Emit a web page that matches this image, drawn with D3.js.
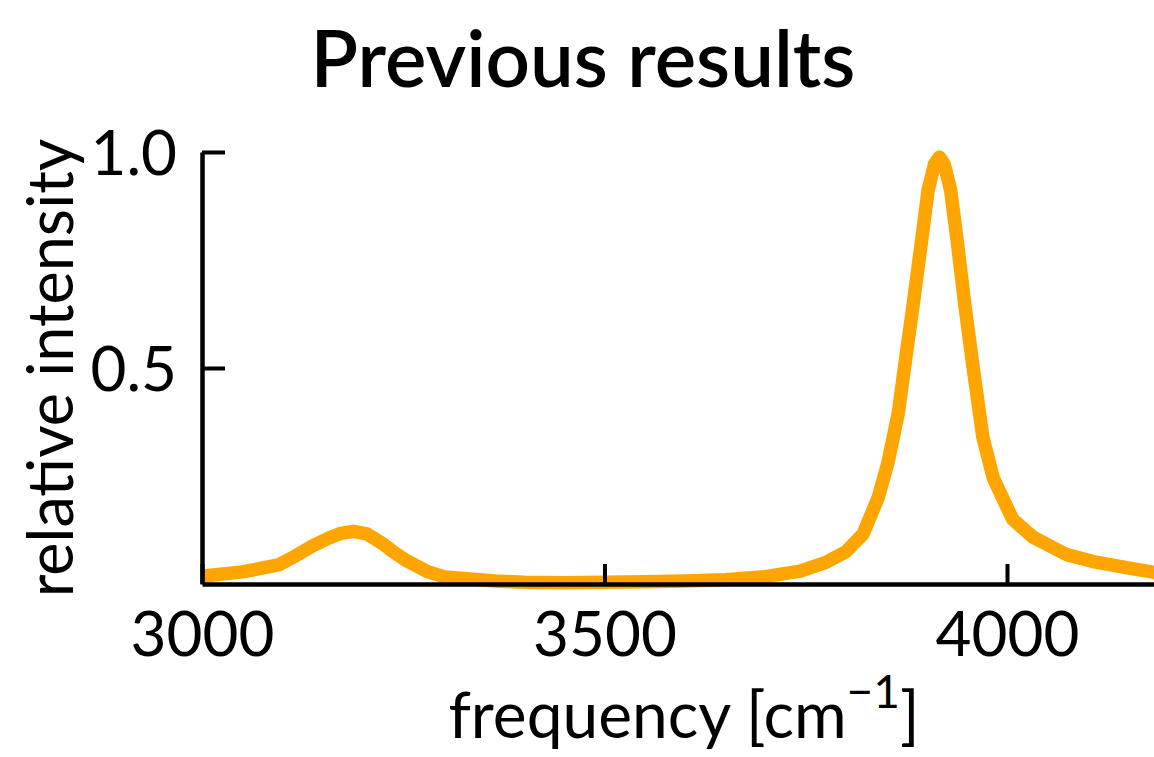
<!DOCTYPE html>
<html>
<head>
<meta charset="utf-8">
<script src="https://cdn.jsdelivr.net/npm/d3@7"></script>
<style>
  body { margin: 0; background: #fff; }
  text { font-family: Lato, "Open Sans", sans-serif; fill: #000; }
</style>
</head>
<body>
<div id="chart"></div>
<script>
// spectrum
const frequency = [3000, 3050, 3095, 3115, 3137, 3157, 3172, 3188, 3205, 3224, 3238, 3252, 3281, 3302, 3364,
  3400, 3450, 3500, 3550, 3600, 3650, 3700, 3743, 3775, 3800, 3821, 3840, 3852, 3865, 3874, 3883,
  3894, 3902, 3910, 3916, 3922, 3930, 3938, 3948, 3958, 3970, 3983, 4007, 4032, 4074, 4107, 4157, 4200]
const intensity = [0.018, 0.028, 0.044, 0.064, 0.088, 0.106, 0.117, 0.122, 0.116, 0.094, 0.074, 0.056, 0.028, 0.016, 0.007,
  0.004, 0.003, 0.004, 0.005, 0.007, 0.010, 0.017, 0.030, 0.050, 0.075, 0.115, 0.200, 0.280, 0.396, 0.520, 0.641,
  0.796, 0.912, 0.972, 0.988, 0.972, 0.912, 0.796, 0.641, 0.500, 0.340, 0.245, 0.150, 0.109, 0.068, 0.052, 0.035, 0.022]
const xTicks = [3000, 3500, 4000]
const yTicks = [0.5, 1.0]

const W = 1154, H = 757
const MARGIN = {TOP: 152, LEFT: 202, BOTTOM: 584, RIGHT: 1168}

const svg = d3.select("#chart").append("svg")
  .attr("width", W)
  .attr("height", H)

const x = d3.scaleLinear().domain([3000, 4200]).range([MARGIN.LEFT, MARGIN.RIGHT])
const y = d3.scaleLinear().domain([0, 1]).range([MARGIN.BOTTOM, MARGIN.TOP])

const data = frequency.map((f, i) => ({f: f, v: intensity[i]}))

// line
svg.append("path")
  .datum(data)
  .attr("fill", "none")
  .attr("stroke", "#FFA500")
  .attr("stroke-width", 13.5)
  .attr("stroke-linejoin", "round")
  .attr("d", d3.line().x(d => x(d.f)).y(d => y(d.v)))

// axes, ticks pointing inwards
const xAxis = svg.append("g")
  .attr("transform", `translate(0, ${MARGIN.BOTTOM})`)
  .call(d3.axisTop(x).tickValues(xTicks).tickSize(20).tickSizeOuter(0).tickFormat(d3.format("d")))
const yAxis = svg.append("g")
  .attr("transform", `translate(${MARGIN.LEFT}, 0)`)
  .call(d3.axisRight(y).tickValues(yTicks).tickSize(23).tickSizeOuter(0).tickFormat(d3.format(".1f")))

svg.selectAll(".domain").attr("stroke", "#000").attr("stroke-width", 4.5)
svg.selectAll(".tick line").attr("stroke", "#000").attr("stroke-width", 4)

xAxis.selectAll(".tick text")
  .attr("y", 72).attr("dy", 0)
  .attr("font-size", 62)
  .attr("text-anchor", "middle")
yAxis.selectAll(".tick text")
  .attr("x", -25).attr("dy", "0.36em")
  .attr("font-size", 62)
  .attr("text-anchor", "end")
svg.selectAll(".tick text").attr("font-family", "Lato, sans-serif").attr("fill", "#000")

// title
svg.append("text")
  .attr("x", 583).attr("y", 87)
  .attr("font-size", 78)
  .attr("font-weight", 600)
  .attr("text-anchor", "middle")
  .text("Previous results")

// x label
const xl = svg.append("text")
  .attr("x", 684).attr("y", 738)
  .attr("font-size", 64)
  .attr("text-anchor", "middle")
xl.append("tspan").text("frequency [cm")
xl.append("tspan").attr("dy", -30).attr("font-size", 46).text("\u22121")
xl.append("tspan").attr("dy", 30).text("]")

// y label
svg.append("text")
  .attr("transform", `translate(73, ${(MARGIN.TOP + MARGIN.BOTTOM) / 2}) rotate(-90)`)
  .attr("font-size", 63)
  .attr("text-anchor", "middle")
  .text("relative intensity")
</script>
</body>
</html>
